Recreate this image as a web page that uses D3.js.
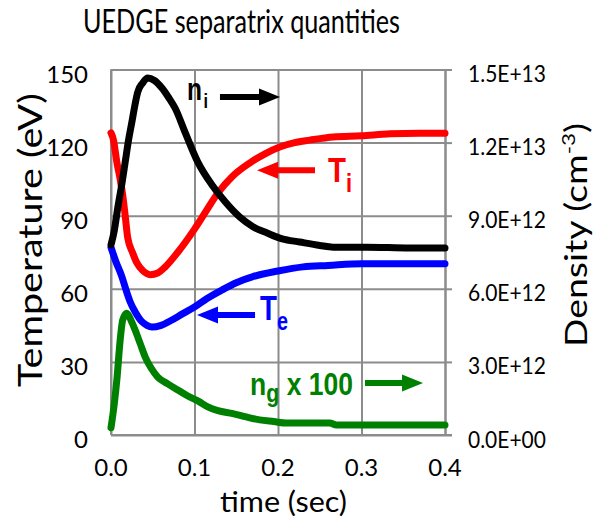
<!DOCTYPE html>
<html>
<head>
<meta charset="utf-8">
<script src="https://cdn.jsdelivr.net/npm/d3@7"></script>
<style>
  body { margin: 0; background: #fff; }
  svg { display: block; }
</style>
</head>
<body>
<svg id="chart" width="600" height="523"></svg>
<script>
// Ion temperature T_i (eV) vs time (s)
const tiTime  = [0, 0.003, 0.007, 0.011, 0.014, 0.017, 0.020, 0.026, 0.031, 0.038, 0.047, 0.056, 0.065, 0.080, 0.100, 0.115, 0.128, 0.145, 0.166, 0.185, 0.202, 0.220, 0.238, 0.266, 0.300, 0.334, 0.370, 0.400];
const tiValue = [124, 121, 112, 105, 98.5, 90, 81, 74.7, 70.6, 67.5, 65.8, 66.5, 69, 75, 84.5, 92.5, 99.3, 106, 111.6, 115.5, 118.2, 120, 121, 122.3, 122.8, 123.6, 123.8, 123.8];

// Electron temperature T_e (eV)
const teTime  = [0, 0.006, 0.013, 0.018, 0.023, 0.029, 0.037, 0.043, 0.049, 0.060, 0.073, 0.086, 0.100, 0.115, 0.133, 0.150, 0.170, 0.200, 0.230, 0.260, 0.300, 0.350, 0.400];
const teValue = [77, 71, 65, 59.5, 54.6, 50.5, 46.5, 45, 44.3, 45, 47.2, 49.8, 52.5, 56, 59.5, 62.5, 65, 67.3, 69, 69.6, 70.3, 70.3, 70.3];

// Ion density n_i (cm^-3)
const niTime  = [0, 0.004, 0.008, 0.013, 0.017, 0.021, 0.025, 0.029, 0.032, 0.038, 0.044, 0.052, 0.061, 0.069, 0.077, 0.089, 0.104, 0.121, 0.137, 0.154, 0.170, 0.187, 0.205, 0.226, 0.250, 0.266, 0.306, 0.358, 0.400];
const niValue = [7.8e12, 8.4e12, 9.3e12, 10.3e12, 11.2e12, 12.1e12, 12.84e12, 13.6e12, 14.07e12, 14.45e12, 14.65e12, 14.55e12, 14.24e12, 13.85e12, 13.4e12, 12.4e12, 11.2e12, 10.26e12, 9.56e12, 8.95e12, 8.55e12, 8.29e12, 8.05e12, 7.92e12, 7.78e12, 7.71e12, 7.71e12, 7.67e12, 7.67e12];

// Neutral gas density n_g x 100 (cm^-3)
const ngTime  = [0, 0.004, 0.007, 0.011, 0.014, 0.019, 0.024, 0.029, 0.035, 0.041, 0.048, 0.056, 0.068, 0.080, 0.092, 0.105, 0.116, 0.128, 0.146, 0.162, 0.178, 0.195, 0.210, 0.240, 0.262, 0.270, 0.330, 0.400];
const ngValue = [0.3e12, 1.3e12, 2.26e12, 3.9e12, 4.72e12, 5.0e12, 4.7e12, 4.3e12, 3.75e12, 3.2e12, 2.75e12, 2.38e12, 2.1e12, 1.85e12, 1.6e12, 1.38e12, 1.15e12, 1.0e12, 0.88e12, 0.74e12, 0.62e12, 0.55e12, 0.49e12, 0.49e12, 0.49e12, 0.41e12, 0.41e12, 0.41e12];

// Axis ticks
const tempTicks = [0, 30, 60, 90, 120, 150];
const densityTicks = [0, 3e12, 6e12, 9e12, 1.2e13, 1.5e13];
const densityTickLabels = ["0.0E+00", "3.0E+12", "6.0E+12", "9.0E+12", "1.2E+13", "1.5E+13"];
const timeTicks = [0, 0.1, 0.2, 0.3, 0.4];
const timeTickLabels = ["0.0", "0.1", "0.2", "0.3", "0.4"];

const FONT = "Lato, 'Open Sans', sans-serif";
const ANNOT_FONT = "'Liberation Sans', Arial, sans-serif";
const GRID = "#8c8c8c";

const svg = d3.select("#chart");

const x  = d3.scaleLinear().domain([0, 0.4]).range([111, 445]);
const yT = d3.scaleLinear().domain([0, 150]).range([435, 69.5]);
const yN = d3.scaleLinear().domain([0, 1.5e13]).range([435, 69.5]);

// Text helper: anchor at (x,y), optional rotation, squeezed horizontally to a target width
function addText(parent, o, build) {
  const g = parent.append("g").attr("transform", `translate(${o.x},${o.y}) rotate(${o.rotate || 0})`);
  const t = g.append("text")
    .attr("text-anchor", o.anchor || "middle")
    .attr("font-family", o.family || FONT)
    .attr("font-size", o.size)
    .attr("font-weight", o.weight || "normal")
    .attr("fill", o.fill || "#000");
  if (typeof build === "string") t.text(build); else build(t);
  if (o.width) {
    const bw = t.node().getBBox().width;
    t.attr("transform", `scale(${o.width / bw},1)`);
  }
  return t;
}

// Horizontal gridlines
svg.append("g")
  .attr("transform", `translate(${x(0)},0)`)
  .call(d3.axisLeft(yT).tickValues(tempTicks).tickSize(-(x(0.4) - x(0))).tickFormat(""))
  .call(g => g.select(".domain").remove())
  .call(g => g.selectAll("line").attr("stroke", GRID).attr("stroke-width", 2));

// Vertical gridlines
svg.append("g")
  .attr("transform", `translate(0,${yT(0)})`)
  .call(d3.axisBottom(x).tickValues(timeTicks).tickSize(-(yT(0) - yT(150))).tickFormat(""))
  .call(g => g.select(".domain").remove())
  .call(g => g.selectAll("line").attr("stroke", GRID).attr("stroke-width", 2));

// Right density axis with outward ticks
svg.append("g")
  .attr("transform", `translate(${x(0.4)},0)`)
  .call(d3.axisRight(yN).tickValues(densityTicks).tickSize(7).tickSizeOuter(0).tickFormat(""))
  .call(g => g.select(".domain").attr("stroke", GRID).attr("stroke-width", 2))
  .call(g => g.selectAll("line").attr("stroke", GRID).attr("stroke-width", 2));

// Bottom and left axis lines
svg.append("line").attr("x1", x(0)).attr("x2", x(0.4) + 7).attr("y1", yT(0)).attr("y2", yT(0))
  .attr("stroke", GRID).attr("stroke-width", 2);
svg.append("line").attr("x1", x(0)).attr("x2", x(0)).attr("y1", yT(0)).attr("y2", yT(150))
  .attr("stroke", GRID).attr("stroke-width", 2);

// Tick labels
tempTicks.forEach(v => addText(svg, { x: 88, y: yT(v) + 13, anchor: "end", size: 24 }, String(v)));
timeTicks.forEach((v, i) => addText(svg, { x: x(v), y: 476, size: 24 }, timeTickLabels[i]));
densityTicks.forEach((v, i) => addText(svg, { x: 468, y: yN(v) + 12.5, anchor: "start", size: 24, width: 78 }, densityTickLabels[i]));

// Curves
const line = (yScale) => d3.line().x(d => x(d[0])).y(d => yScale(d[1])).curve(d3.curveMonotoneX);
const series = [
  { t: ngTime, v: ngValue, scale: yN, color: "#008000" },
  { t: tiTime, v: tiValue, scale: yT, color: "#ff0000" },
  { t: teTime, v: teValue, scale: yT, color: "#0000ff" },
  { t: niTime, v: niValue, scale: yN, color: "#000000" }
];
series.forEach(s => {
  const pts = s.t.map((t, i) => [t, s.v[i]]);
  svg.append("path")
    .attr("d", line(s.scale)(pts))
    .attr("fill", "none")
    .attr("stroke", s.color)
    .attr("stroke-width", 7)
    .attr("stroke-linejoin", "round")
    .attr("stroke-linecap", "round");
});

// Annotation arrows (time range and temperature-axis height)
const arrows = [
  { from: 0.1305, to: 0.2024, at: 138.7, color: "#000000" },
  { from: 0.2443, to: 0.1749, at: 108.7, color: "#ff0000" },
  { from: 0.1725, to: 0.1030, at: 49.2,  color: "#0000ff" },
  { from: 0.3042, to: 0.3737, at: 21.3,  color: "#008000" }
];
arrows.forEach(a => {
  const x0 = x(a.from), x1 = x(a.to), y = yT(a.at);
  const dir = Math.sign(x1 - x0), head = 21, hh = 8.5, sh = 3;
  const xb = x1 - dir * head;
  const p = d3.path();
  p.moveTo(x0, y - sh); p.lineTo(xb, y - sh); p.lineTo(xb, y - hh); p.lineTo(x1, y);
  p.lineTo(xb, y + hh); p.lineTo(xb, y + sh); p.lineTo(x0, y + sh); p.closePath();
  svg.append("path").attr("d", p.toString()).attr("fill", a.color);
});

// Annotation labels
addText(svg, { x: x(0.091), y: yT(137.5), anchor: "start", size: 32, weight: "bold", family: ANNOT_FONT, fill: "#000", width: 21 }, t => {
  t.append("tspan").text("n");
  t.append("tspan").attr("font-size", 21).attr("dy", 8).attr("dx", 2).text("i");
});
addText(svg, { x: x(0.26), y: yT(103.8), anchor: "start", size: 35, weight: "bold", family: ANNOT_FONT, fill: "#ff0000", width: 24 }, t => {
  t.append("tspan").text("T");
  t.append("tspan").attr("font-size", 26).attr("dy", 10).text("i");
});
addText(svg, { x: x(0.1784), y: yT(47.2), anchor: "start", size: 35, weight: "bold", family: ANNOT_FONT, fill: "#0000ff", width: 28 }, t => {
  t.append("tspan").text("T");
  t.append("tspan").attr("font-size", 25).attr("dy", 10).text("e");
});
addText(svg, { x: x(0.1665), y: yT(16.4), anchor: "start", size: 31, weight: "bold", family: ANNOT_FONT, fill: "#008000", width: 103 }, t => {
  t.append("tspan").text("n");
  t.append("tspan").attr("font-size", 25).attr("dy", 7).text("g");
  t.append("tspan").attr("dy", -7).text(" x 100");
});

// Titles
addText(svg, { x: 241.5, y: 33, size: 32, width: 317 }, "UEDGE separatrix quantities");
addText(svg, { x: 283.5, y: 512, size: 29, width: 127 }, "time (sec)");
addText(svg, { x: 42, y: 240, rotate: -90, size: 32, width: 294 }, "Temperature (eV)");
addText(svg, { x: 587, y: 235, rotate: -90, size: 30, width: 224 }, t => {
  t.append("tspan").text("Density (cm");
  t.append("tspan").attr("font-size", 18).attr("dy", -12).text("-3");
  t.append("tspan").attr("dy", 12).text(")");
});
</script>
</body>
</html>
